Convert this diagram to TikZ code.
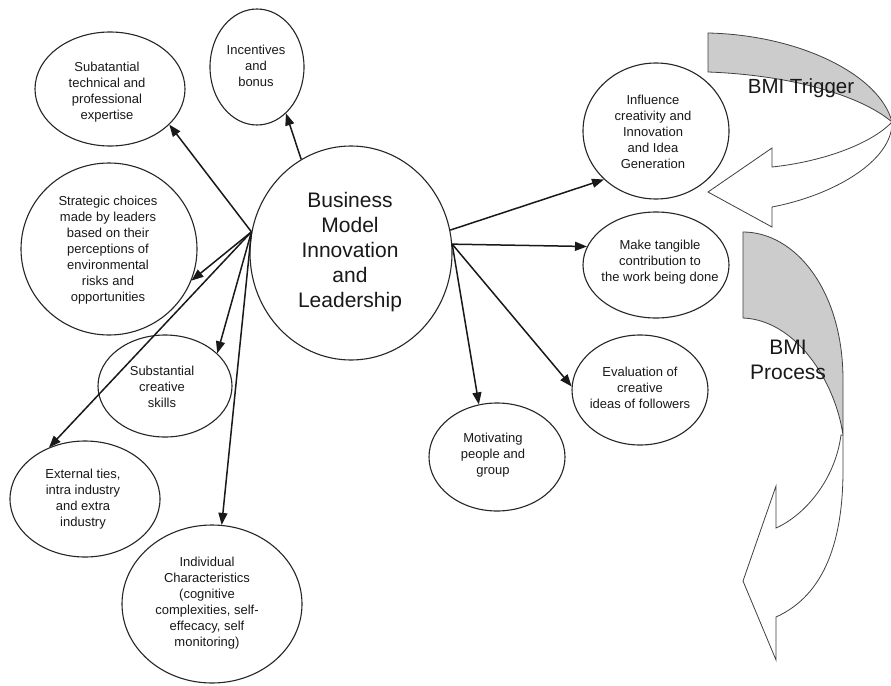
\documentclass[tikz,border=0pt]{standalone}
\usepackage{fontspec}
\setmainfont{Liberation Sans}
\usetikzlibrary{arrows.meta,shapes.geometric}
\begin{document}
\begin{tikzpicture}[x=1pt,y=-1pt,
  oval/.style={draw=black!85, line width=1.1pt, ellipse, inner sep=0pt},
  txt/.style={align=center, inner sep=0pt, text=black!90, font=\fontsize{13}{16}\selectfont},
  bigtxt/.style={align=center, inner sep=0pt, text=black!90, font=\fontsize{21}{25}\selectfont},
  lnk/.style={line width=1.5pt, draw=black!90, -{Triangle[length=12pt,width=9pt]}},
  band/.style={draw=black!75, line width=0.8pt}]
\useasboundingbox (0,0) rectangle (891,685);
\fill[white] (0,0) rectangle (891,685);

% ellipses
\node[oval, minimum width=150pt, minimum height=114pt] (sub) at (110,89) {};
\node[txt] (subT) at (107,92) {Subatantial\\technical and\\professional\\expertise};
\node[oval, minimum width=94pt, minimum height=116pt] (inc) at (257,67) {};
\node[txt] (incT) at (256,66) {Incentives\\and\\bonus};
\node[oval, minimum width=176pt, minimum height=172pt] (strat) at (109,249) {};
\node[txt] (stratT) at (108,250) {Strategic choices\\made by leaders\\based on their\\perceptions of\\environmental\\risks and\\opportunities};
\node[oval, minimum width=202pt, minimum height=214pt] (main) at (351,253) {};
\node[bigtxt] (mainT) at (350,252) {Business\\Model\\Innovation\\and\\Leadership};
\node[oval, minimum width=134pt, minimum height=102pt] (cre) at (165,386) {};
\node[txt] (creT) at (162,387) {Substantial\\creative\\skills};
\node[oval, minimum width=150pt, minimum height=116pt] (ext) at (85,499) {};
\node[txt] (extT) at (83,499) {External ties,\\intra industry\\and extra\\industry};
\node[oval, minimum width=180pt, minimum height=158pt] (ind) at (212,604) {};
\node[txt] (indT) at (207,603) {Individual\\Characteristics\\(cognitive\\complexities, self-\\effecacy, self\\monitoring)};
\node[oval, minimum width=146pt, minimum height=136pt] (infl) at (656,131) {};
\node[txt] (inflT) at (653,132) {Influence\\creativity and\\Innovation\\and Idea\\Generation};
\node[oval, minimum width=146pt, minimum height=106pt] (tang) at (656,265) {};
\node[txt] (tangT) at (660,262) {Make tangible\\contribution to\\the work being done};
\node[oval, minimum width=136pt, minimum height=110pt] (eval) at (640,390) {};
\node[txt] (evalT) at (640,388) {Evaluation of\\creative\\ideas of followers};
\node[oval, minimum width=136pt, minimum height=108pt] (mot) at (497,457) {};
\node[txt] (motT) at (493,455) {Motivating\\people and\\group};

% connectors
\draw[lnk] (main.168) -- (sub.-31);
\draw[lnk] (main.118.6) -- (inc.-58.7);
\draw[lnk] (main.168) -- (strat.-21);
\draw[lnk] (main.168) -- (cre.32);
\draw[lnk] (main.168) -- (ext.125.5);
\draw[lnk] (main.168) -- (ind.83);
\draw[lnk] (main.13) -- (infl.223);
\draw[lnk] (main.5) -- (tang.165);
\draw[lnk] (main.5) -- (eval.177);
\draw[lnk] (main.5) -- (mot.109);

% BMI Trigger curved arrow
\filldraw[band, fill=gray!40] (708,33) .. controls (800,35) and (880,75) .. (892,122)
  .. controls (860,95) and (790,75) .. (708,72) -- cycle;
\filldraw[band, fill=white] (892,122) .. controls (870,145) and (820,162) .. (772,167)
  -- (772,148) -- (708,192) -- (772,227) -- (772,207)
  .. controls (835,195) and (893,160) .. (892,122) -- cycle;
\node[bigtxt, font=\fontsize{20.5}{25}\selectfont] (trig) at (801,88) {BMI Trigger};

% BMI Process curved arrow
\filldraw[band, fill=gray!40] (743,232) .. controls (795,232) and (843,290) .. (843,380)
  -- (843,435) .. controls (835,380) and (795,320) .. (743,318) -- cycle;
\filldraw[band, fill=white] (841,435) .. controls (835,480) and (805,515) .. (776,528)
  -- (776,486) -- (743,581) -- (776,660) -- (776,617)
  .. controls (825,595) and (843,540) .. (843,470) -- (843,435) -- cycle;
\node[bigtxt] (proc) at (788,360) {BMI\\Process};
\end{tikzpicture}
\end{document}
